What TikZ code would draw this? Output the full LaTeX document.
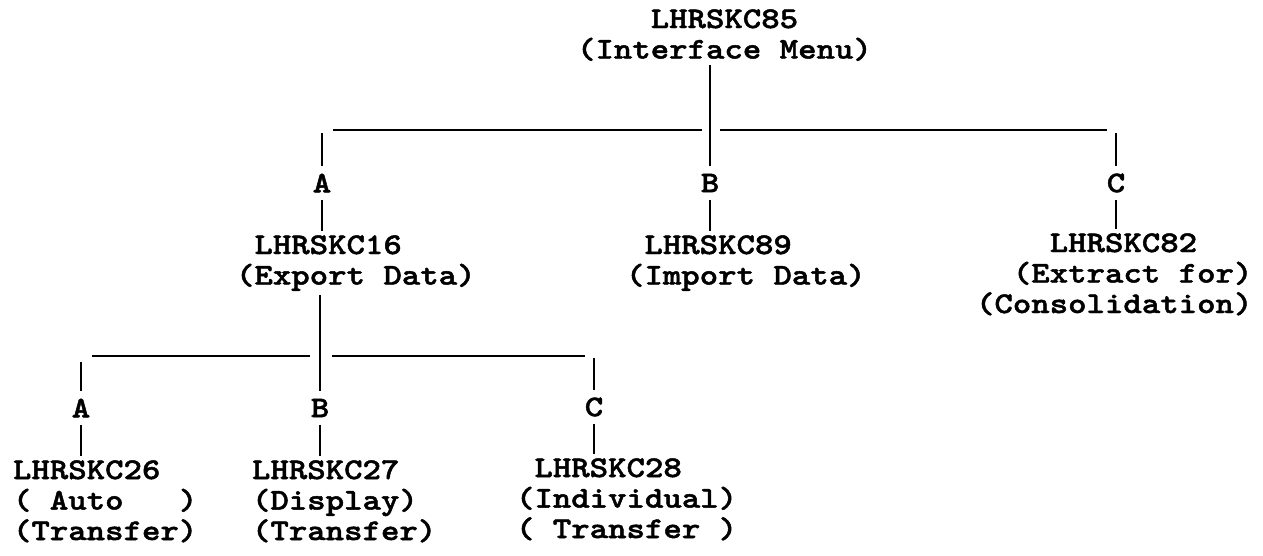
\documentclass[tikz,border=0pt]{standalone}
\usepackage{fontspec}
\newfontfamily\tw{lmmonolt10-bold.otf}[FakeStretch=1.17,FakeBold=1.6]
\begin{document}
\begin{tikzpicture}[x=1pt,y=-1pt,line width=2.8pt,
  every node/.style={font=\tw\fontsize{30}{30.5}\selectfont,inner sep=0pt},
  letter/.style={outer sep=7.5pt},
  % a block is placed by the baseline of its last line
  block/.style={align=left,anchor=base west,outer sep=4pt}]
\useasboundingbox (0,0) rectangle (1263,555);

% program boxes (typed text blocks)
\node[block] (n85) at (573,58.5) {~~~~LHRSKC85\\(Interface Menu)};
\node[block] (n16) at (232,284.5) {~LHRSKC16\\(Export Data)};
\node[block] (n89) at (622,284.5) {~LHRSKC89\\(Import Data)};
\node[block] (n82) at (972,313) {~~~~LHRSKC82\\~~(Extract for)\\(Consolidation)};
\node[block] (n26) at (9,540) {LHRSKC26\\(~Auto~~~)\\(Transfer)};
\node[block] (n27) at (248,540) {LHRSKC27\\(Display)\\(Transfer)};
\node[block] (n28) at (512,538) {~LHRSKC28\\(Individual)\\(~Transfer~)};

% option letters
\node[letter] (A1) at (322,183) {A};
\node[letter] (B1) at (710,183) {B};
\node[letter] (C1) at (1116,183) {C};
\node[letter] (A2) at (81,408) {A};
\node[letter] (B2) at (320,408) {B};
\node[letter] (C2) at (594,407) {C};

% horizontal buses
\coordinate (t1a) at (333,130);
\coordinate (t1b) at (702,130);
\coordinate (t1c) at (720,130);
\coordinate (t1d) at (1107,130);
\coordinate (t2a) at (92,356);
\coordinate (t2b) at (310,356);
\coordinate (t2c) at (332,356);
\coordinate (t2d) at (585,356);
\draw (t1a) -- (t1b);
\draw (t1c) -- (t1d);
\draw (t2a) -- (t2b);
\draw (t2c) -- (t2d);

% first level
\draw (n85.south -| B1) -- (B1);
\draw[shorten <=3pt] (A1 |- t1a) -- (A1);
\draw[shorten <=3pt] (C1 |- t1d) -- (C1);
\draw (A1) -- (A1 |- n16.north);
\draw (B1) -- (B1 |- n89.north);
\draw (C1) -- (C1 |- n82.north);

% second level
\draw (n16.south -| B2) -- (B2);
\draw[shorten <=6pt] (A2 |- t2a) -- (A2);
\draw[shorten <=2pt] (C2 |- t2d) -- (C2);
\draw (A2) -- (A2 |- n26.north);
\draw (B2) -- (B2 |- n27.north);
\draw (C2) -- (C2 |- n28.north);
\end{tikzpicture}
\end{document}
